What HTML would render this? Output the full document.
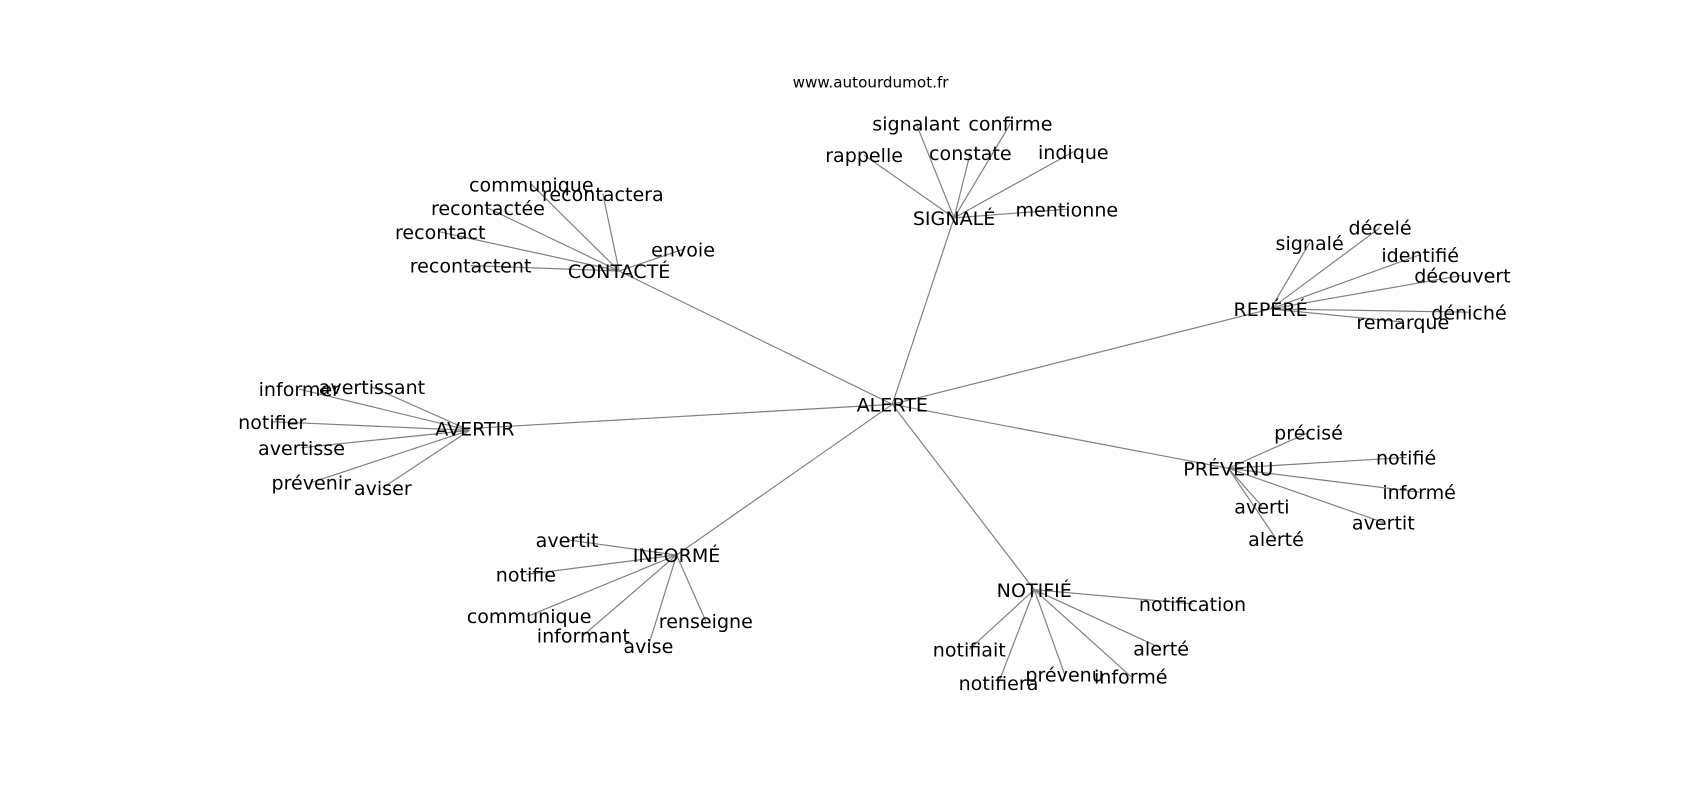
<!DOCTYPE html>
<html><head><meta charset="utf-8"><style>
html,body{margin:0;padding:0;background:#fff;width:1700px;height:800px;overflow:hidden}
svg text{font-family:"DejaVu Sans","Liberation Sans",sans-serif;fill:#000}
</style></head><body>
<svg width="1700" height="800" viewBox="0 0 1568 738" xmlns="http://www.w3.org/2000/svg">
<g stroke="#808080" stroke-width="1.1" id="edges"></g>
<g id="labels" font-size="17.6" text-anchor="middle" dominant-baseline="central">
<text x="803" y="76" font-size="14">www.autourdumot.fr</text>
<text x="823" y="374">ALERTE</text>
<text x="880" y="202">SIGNALÉ</text>
<text x="571" y="251">CONTACTÉ</text>
<text x="1172" y="286">REPÉRÉ</text>
<text x="438" y="396">AVERTIR</text>
<text x="1133" y="433">PRÉVENU</text>
<text x="624" y="513">INFORMÉ</text>
<text x="954" y="545">NOTIFIÉ</text>
<text x="845" y="115">signalant</text>
<text x="932" y="115">confirme</text>
<text x="797" y="144">rappelle</text>
<text x="895" y="142">constate</text>
<text x="990" y="141">indique</text>
<text x="984" y="194">mentionne</text>
<text x="490" y="171">communique</text>
<text x="556" y="180">recontactera</text>
<text x="450" y="193">recontactée</text>
<text x="406" y="215">recontact</text>
<text x="434" y="246">recontactent</text>
<text x="630" y="231">envoie</text>
<text x="1208" y="225">signalé</text>
<text x="1273" y="211">décelé</text>
<text x="1310" y="236">identifié</text>
<text x="1349" y="255">découvert</text>
<text x="1355" y="289">déniché</text>
<text x="1294" y="298">remarque</text>
<text x="276" y="360">informer</text>
<text x="343" y="358">avertissant</text>
<text x="251" y="390">notifier</text>
<text x="278" y="414">avertisse</text>
<text x="287" y="446">prévenir</text>
<text x="353" y="451">aviser</text>
<text x="1207" y="400">précisé</text>
<text x="1297" y="423">notifié</text>
<text x="1309" y="455">informé</text>
<text x="1164" y="468">averti</text>
<text x="1276" y="483">avertit</text>
<text x="1177" y="498">alerté</text>
<text x="523" y="499">avertit</text>
<text x="485" y="531">notifie</text>
<text x="488" y="569">communique</text>
<text x="538" y="587">informant</text>
<text x="598" y="597">avise</text>
<text x="651" y="574">renseigne</text>
<text x="1100" y="558">notification</text>
<text x="894" y="600">notifiait</text>
<text x="1071" y="599">alerté</text>
<text x="921" y="631">notifiera</text>
<text x="982" y="623">prévenu</text>
<text x="1043" y="625">informé</text>
</g>
</svg>
<script>
var E={
"823,373":["880,201","571,250","1172,285","438,395","1133,432","624,512","954,544"],
"880,201":["845,114","932,114","797,143","895,141","990,140","984,193"],
"571,250":["490,170","556,179","450,192","406,214","434,245","630,230"],
"1172,285":["1208,224","1273,210","1310,235","1349,254","1355,288","1294,297"],
"433,397":["276,359","343,357","251,389","278,413","287,445","353,450"],
"1133,432":["1207,399","1297,422","1309,454","1164,467","1276,482","1177,497"],
"624,512":["523,498","485,530","488,568","538,586","598,596","651,573"],
"954,544":["1100,557","894,599","1071,598","921,630","982,622","1043,624"]};
var g=document.getElementById("edges"),s="";
for(var k in E){var a=k.split(",");E[k].forEach(function(b){b=b.split(",");
s+='<line x1="'+a[0]+'" y1="'+a[1]+'" x2="'+b[0]+'" y2="'+b[1]+'"/>';});}
g.innerHTML=s;
</script>
</body></html>
